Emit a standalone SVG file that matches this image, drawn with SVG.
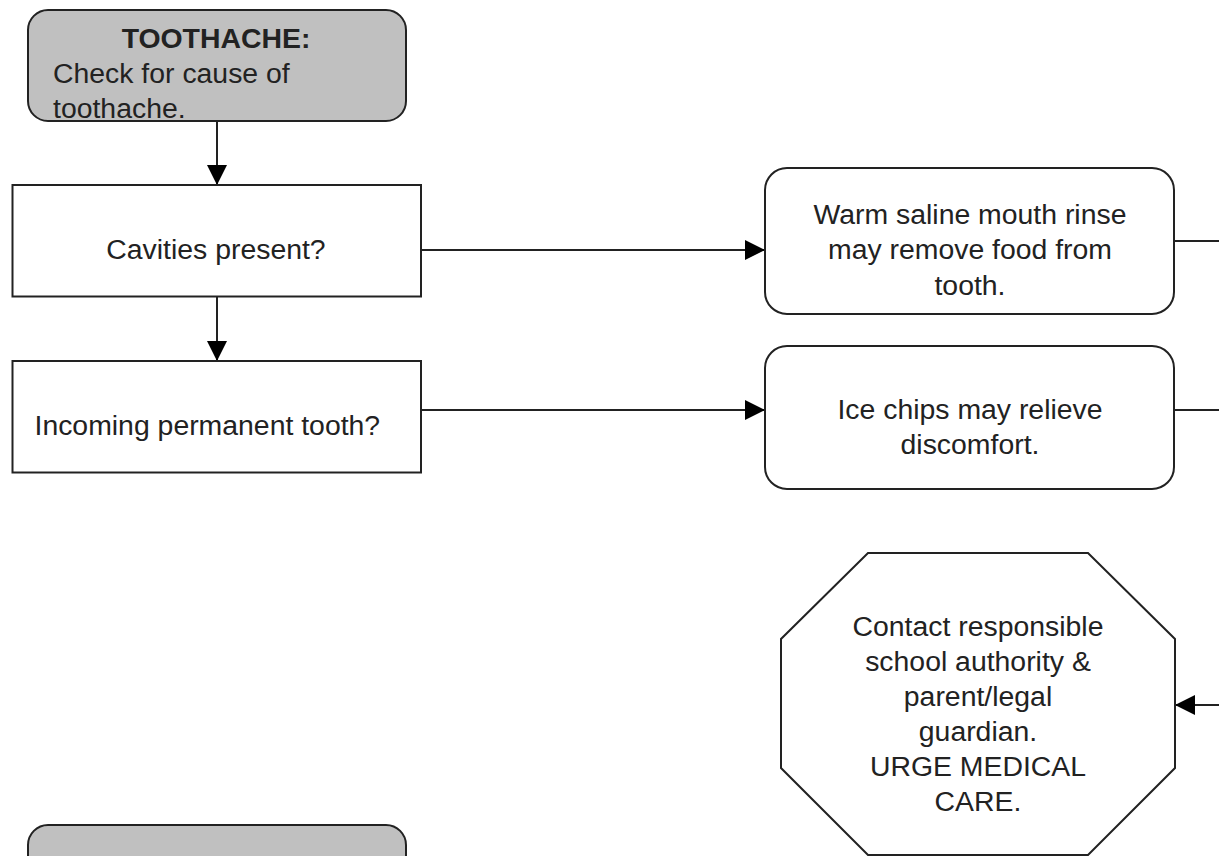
<svg xmlns="http://www.w3.org/2000/svg" width="1219" height="856" viewBox="0 0 1219 856">
<style>
.box{fill:#ffffff;stroke:#222;stroke-width:2}
.grey{fill:#c0c0c0;stroke:#222;stroke-width:2}
.t{font-family:"Liberation Sans",Arial,sans-serif;font-size:28.4px;fill:#222}
.c{text-anchor:middle}
.b{font-weight:bold}
.ln{stroke:#222;stroke-width:2;fill:none}
</style>
<defs>
<marker id="ah" viewBox="0 0 20 20" refX="20" refY="10" markerWidth="20" markerHeight="20" markerUnits="userSpaceOnUse" orient="auto">
<path d="M0,0 L20,10 L0,20 Z" fill="#000"/>
</marker>
</defs>
<g id="connectors">
<line class="ln" x1="217" y1="121" x2="217" y2="185" marker-end="url(#ah)"/>
<line class="ln" x1="217" y1="297" x2="217" y2="361" marker-end="url(#ah)"/>
<line class="ln" x1="421" y1="250" x2="765" y2="250" marker-end="url(#ah)"/>
<line class="ln" x1="421" y1="410" x2="765" y2="410" marker-end="url(#ah)"/>
<line class="ln" x1="1174" y1="241" x2="1219" y2="241"/>
<line class="ln" x1="1174" y1="410" x2="1219" y2="410"/>
<line class="ln" x1="1219" y1="705" x2="1175" y2="705" marker-end="url(#ah)"/>
</g>
<g id="toothache">
<rect class="grey" x="28" y="10" width="378" height="111" rx="20"/>
<text class="t c b" x="216" y="48">TOOTHACHE:</text>
<text class="t" x="53" y="83">Check for cause of</text>
<text class="t" x="53" y="118">toothache.</text>
</g>
<g id="cavities">
<rect class="box" x="12.5" y="185" width="408.5" height="111.5"/>
<text class="t c" x="216" y="259">Cavities present?</text>
</g>
<g id="incoming">
<rect class="box" x="12.5" y="361" width="408.5" height="111.5"/>
<text class="t" x="34.5" y="435">Incoming permanent tooth?</text>
</g>
<g id="saline">
<rect class="box" x="765" y="168" width="409" height="146" rx="22"/>
<text class="t c" x="970" y="224">Warm saline mouth rinse</text>
<text class="t c" x="970" y="259">may remove food from</text>
<text class="t c" x="970" y="295">tooth.</text>
</g>
<g id="ice">
<rect class="box" x="765" y="346" width="409" height="143" rx="22"/>
<text class="t c" x="970" y="419">Ice chips may relieve</text>
<text class="t c" x="970" y="454">discomfort.</text>
</g>
<g id="contact">
<polygon class="box" points="868,553 1088,553 1175,639 1175,768 1088,855 868,855 781,768 781,639"/>
<text class="t c" x="978" y="636">Contact responsible</text>
<text class="t c" x="978" y="671">school authority &amp;</text>
<text class="t c" x="978" y="706">parent/legal</text>
<text class="t c" x="978" y="741">guardian.</text>
<text class="t c" x="978" y="776">URGE MEDICAL</text>
<text class="t c" x="978" y="811">CARE.</text>
</g>
<g id="bottom-box">
<rect class="grey" x="28" y="825" width="378" height="80" rx="20"/>
</g>
</svg>
